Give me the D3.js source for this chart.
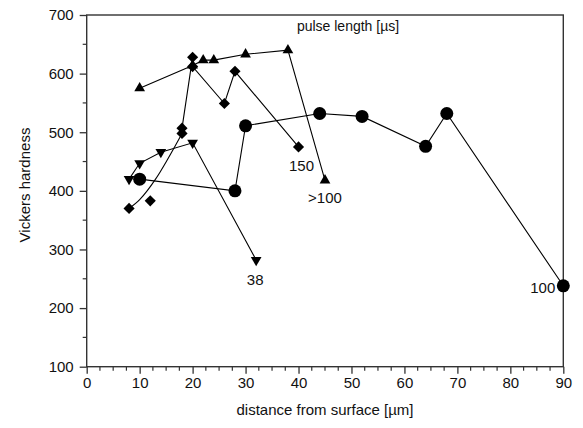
<!DOCTYPE html>
<html>
<head>
<meta charset="utf-8">
<script src="https://cdn.jsdelivr.net/npm/d3@7/dist/d3.min.js"></script>
<style>
  html, body { margin: 0; padding: 0; background: #fff; }
  svg { display: block; font-family: Arial, "Liberation Sans", sans-serif; }
  text { font-family: Arial, "Liberation Sans", sans-serif; fill: #111; }
</style>
</head>
<body>
<svg id="chart" width="583" height="428"></svg>
<script>
// ---- data ----
const xTicks = [0, 10, 20, 30, 40, 50, 60, 70, 80, 90];
const yTicks = [100, 200, 300, 400, 500, 600, 700];

// pulse length 100 µs (circles)
const circleSeries = [[10, 420], [28, 400], [30, 511], [44, 532], [52, 527], [64, 476], [68, 532], [90, 238]];
// pulse length >100 µs (triangles up)
const triUpSeries = [[10, 575], [20, 614], [22, 623], [24, 623], [30, 633], [38, 640], [45, 418]];
// pulse length 150 µs (diamonds)
const diamondSeries = [[18, 498], [18, 507], [20, 628], [20, 612], [26, 549], [28, 604], [40, 475]];
const diamondStart = [[8, 370], [10, 385], [13, 420], [18, 498]];
const diamondExtra = [[12, 383]];
// pulse length 38 µs (triangles down)
const triDownSeries = [[8, 420], [10, 447], [14, 466], [20, 482], [32, 282]];

const seriesLabels = [
  { text: "100", x: 90, y: 238, dx: -8, dy: 7, anchor: "end" },
  { text: ">100", x: 45, y: 418, dx: 0, dy: 23, anchor: "middle" },
  { text: "150", x: 40, y: 475, dx: 3, dy: 24, anchor: "middle" },
  { text: "38", x: 32, y: 282, dx: -1, dy: 25, anchor: "middle" }
];

// ---- layout ----
const svg = d3.select("#chart");
const L = 86.7, R = 563.3, T = 15, B = 366.7;
const x = d3.scaleLinear().domain([0, 90]).range([L, R]);
const y = d3.scaleLinear().domain([100, 700]).range([B, T]);

const axisColor = "#333";
const FONT = 'Arial, "Liberation Sans", sans-serif';

// frame
svg.append("rect")
  .attr("x", L).attr("y", T).attr("width", R - L).attr("height", B - T)
  .attr("fill", "none").attr("stroke", axisColor).attr("stroke-width", 1.4);

// x axis
const xMinor = d3.range(0, 90.01, 2.5).filter(v => v % 10 !== 0);
const gx = svg.append("g").attr("transform", `translate(0,${B})`);
gx.call(d3.axisBottom(x).tickValues(xTicks).tickSize(7).tickPadding(4).tickFormat(d3.format("d")));
gx.call(g => g.select(".domain").remove());
gx.selectAll(".tick line").attr("stroke", axisColor).attr("stroke-width", 1.3);
gx.selectAll(".tick text").attr("font-size", 15).attr("fill", "#111").attr("font-family", FONT);
gx.selectAll(".minor").data(xMinor).enter().append("line")
  .attr("x1", d => x(d)).attr("x2", d => x(d)).attr("y1", 0).attr("y2", 4)
  .attr("stroke", axisColor).attr("stroke-width", 1.2);

// y axis
const yMinor = d3.range(150, 700, 100);
const gy = svg.append("g").attr("transform", `translate(${L},0)`);
gy.call(d3.axisLeft(y).tickValues(yTicks).tickSize(7).tickPadding(6).tickFormat(d3.format("d")));
gy.call(g => g.select(".domain").remove());
gy.selectAll(".tick line").attr("stroke", axisColor).attr("stroke-width", 1.3);
gy.selectAll(".tick text").attr("font-size", 15).attr("fill", "#111").attr("font-family", FONT);
gy.selectAll(".minor").data(yMinor).enter().append("line")
  .attr("x1", 0).attr("x2", -4).attr("y1", d => y(d)).attr("y2", d => y(d))
  .attr("stroke", axisColor).attr("stroke-width", 1.2);

// axis titles
svg.append("text").attr("x", (L + R) / 2).attr("y", 415).attr("text-anchor", "middle")
  .attr("font-size", 15).text("distance from surface [µm]");
svg.append("text").attr("transform", `translate(30,185) rotate(-90)`)
  .attr("text-anchor", "middle").attr("font-size", 15).text("Vickers hardness");

svg.append("text").attr("x", 348).attr("y", 31).attr("text-anchor", "middle")
  .attr("font-size", 14).text("pulse length [µs]");

// lines
const line = d3.line().x(d => x(d[0])).y(d => y(d[1]));
const lineG = svg.append("g").attr("fill", "none").attr("stroke", "#000").attr("stroke-width", 1.1);
[circleSeries, triUpSeries, diamondSeries, triDownSeries].forEach(s => {
  lineG.append("path").attr("d", line(s));
});
lineG.append("path").attr("d", d3.line().x(d => x(d[0])).y(d => y(d[1])).curve(d3.curveCatmullRom)(diamondStart));

// markers
const mk = svg.append("g").attr("fill", "#000");
mk.selectAll(".c").data(circleSeries).enter().append("circle")
  .attr("cx", d => x(d[0])).attr("cy", d => y(d[1])).attr("r", 6.5);
const triUp = d3.symbol().type(d3.symbolTriangle).size(50);
mk.selectAll(".tu").data(triUpSeries).enter().append("path")
  .attr("d", triUp).attr("transform", d => `translate(${x(d[0])},${y(d[1])})`);
mk.selectAll(".td").data(triDownSeries).enter().append("path")
  .attr("d", triUp).attr("transform", d => `translate(${x(d[0])},${y(d[1])}) rotate(180)`);
const dia = d3.symbol().type(d3.symbolSquare).size(62);
mk.selectAll(".dm").data(diamondSeries.concat([diamondStart[0]], diamondExtra)).enter().append("path")
  .attr("d", dia).attr("transform", d => `translate(${x(d[0])},${y(d[1])}) rotate(45)`);

// series labels
svg.selectAll(".lbl").data(seriesLabels).enter().append("text")
  .attr("x", d => x(d.x) + d.dx).attr("y", d => y(d.y) + d.dy)
  .attr("text-anchor", d => d.anchor).attr("font-size", 15).text(d => d.text);
</script>
</body>
</html>
